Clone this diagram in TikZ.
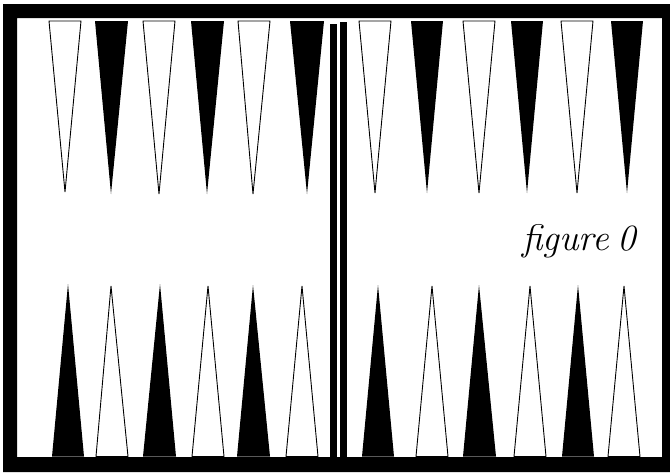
\documentclass[tikz,border=0pt]{standalone}
\begin{document}
\begin{tikzpicture}[x=1pt,y=-1pt,
  whitept/.style={draw=black,fill=white,line width=0.9pt,line join=miter},
  blackpt/.style={fill=black,draw=none},
  barstyle/.style={fill=black,draw=none},
  framestyle/.style={fill=black,draw=none,even odd rule}]
\useasboundingbox[fill=white] (0,0) rectangle (670,472);
% frame
\path[framestyle] (3,4) rectangle (670,472) (17,18) rectangle (662,457);
% bar
\path[barstyle] (330,24) rectangle (337,457);
\path[barstyle] (340,22) rectangle (347,457);
% top points: left, right, tip x, tip y, style
\foreach \l/\r/\t/\ty/\s in {
  49/81/65/192/whitept, 95/128/111/194/blackpt, 143/175/159/194/whitept,
  191/224/207/194/blackpt, 238/270/253/194/whitept, 290/324/307/194/blackpt,
  359/391/375/193/whitept, 411/443/427/193/blackpt, 463/495/479/193/whitept,
  511/543/527/193/blackpt, 561/593/577/193/whitept, 611/643/627/193/blackpt}
  \path[\s] (\l,21) -- (\r,21) -- (\t,\ty) -- cycle;
% bottom points
\foreach \l/\r/\t/\ty/\s in {
  52/84/68/284/blackpt, 96/128/111/286/whitept, 143/176/160/284/blackpt,
  192/224/208/286/whitept, 237/270/253/285/blackpt, 286/318/302/286/whitept,
  362/394/378/285/blackpt, 416/448/432/286/whitept, 463/496/479/285/blackpt,
  514/546/530/286/whitept, 562/594/578/285/blackpt, 608/640/624/286/whitept}
  \path[\s] (\l,456.5) -- (\r,456.5) -- (\t,\ty) -- cycle;
% caption
\node[anchor=base west,inner sep=0pt,font=\fontsize{37}{42}\selectfont\itshape] (cap) at (522,250) {figure\kern-0.1em\ 0};
\end{tikzpicture}
\end{document}
